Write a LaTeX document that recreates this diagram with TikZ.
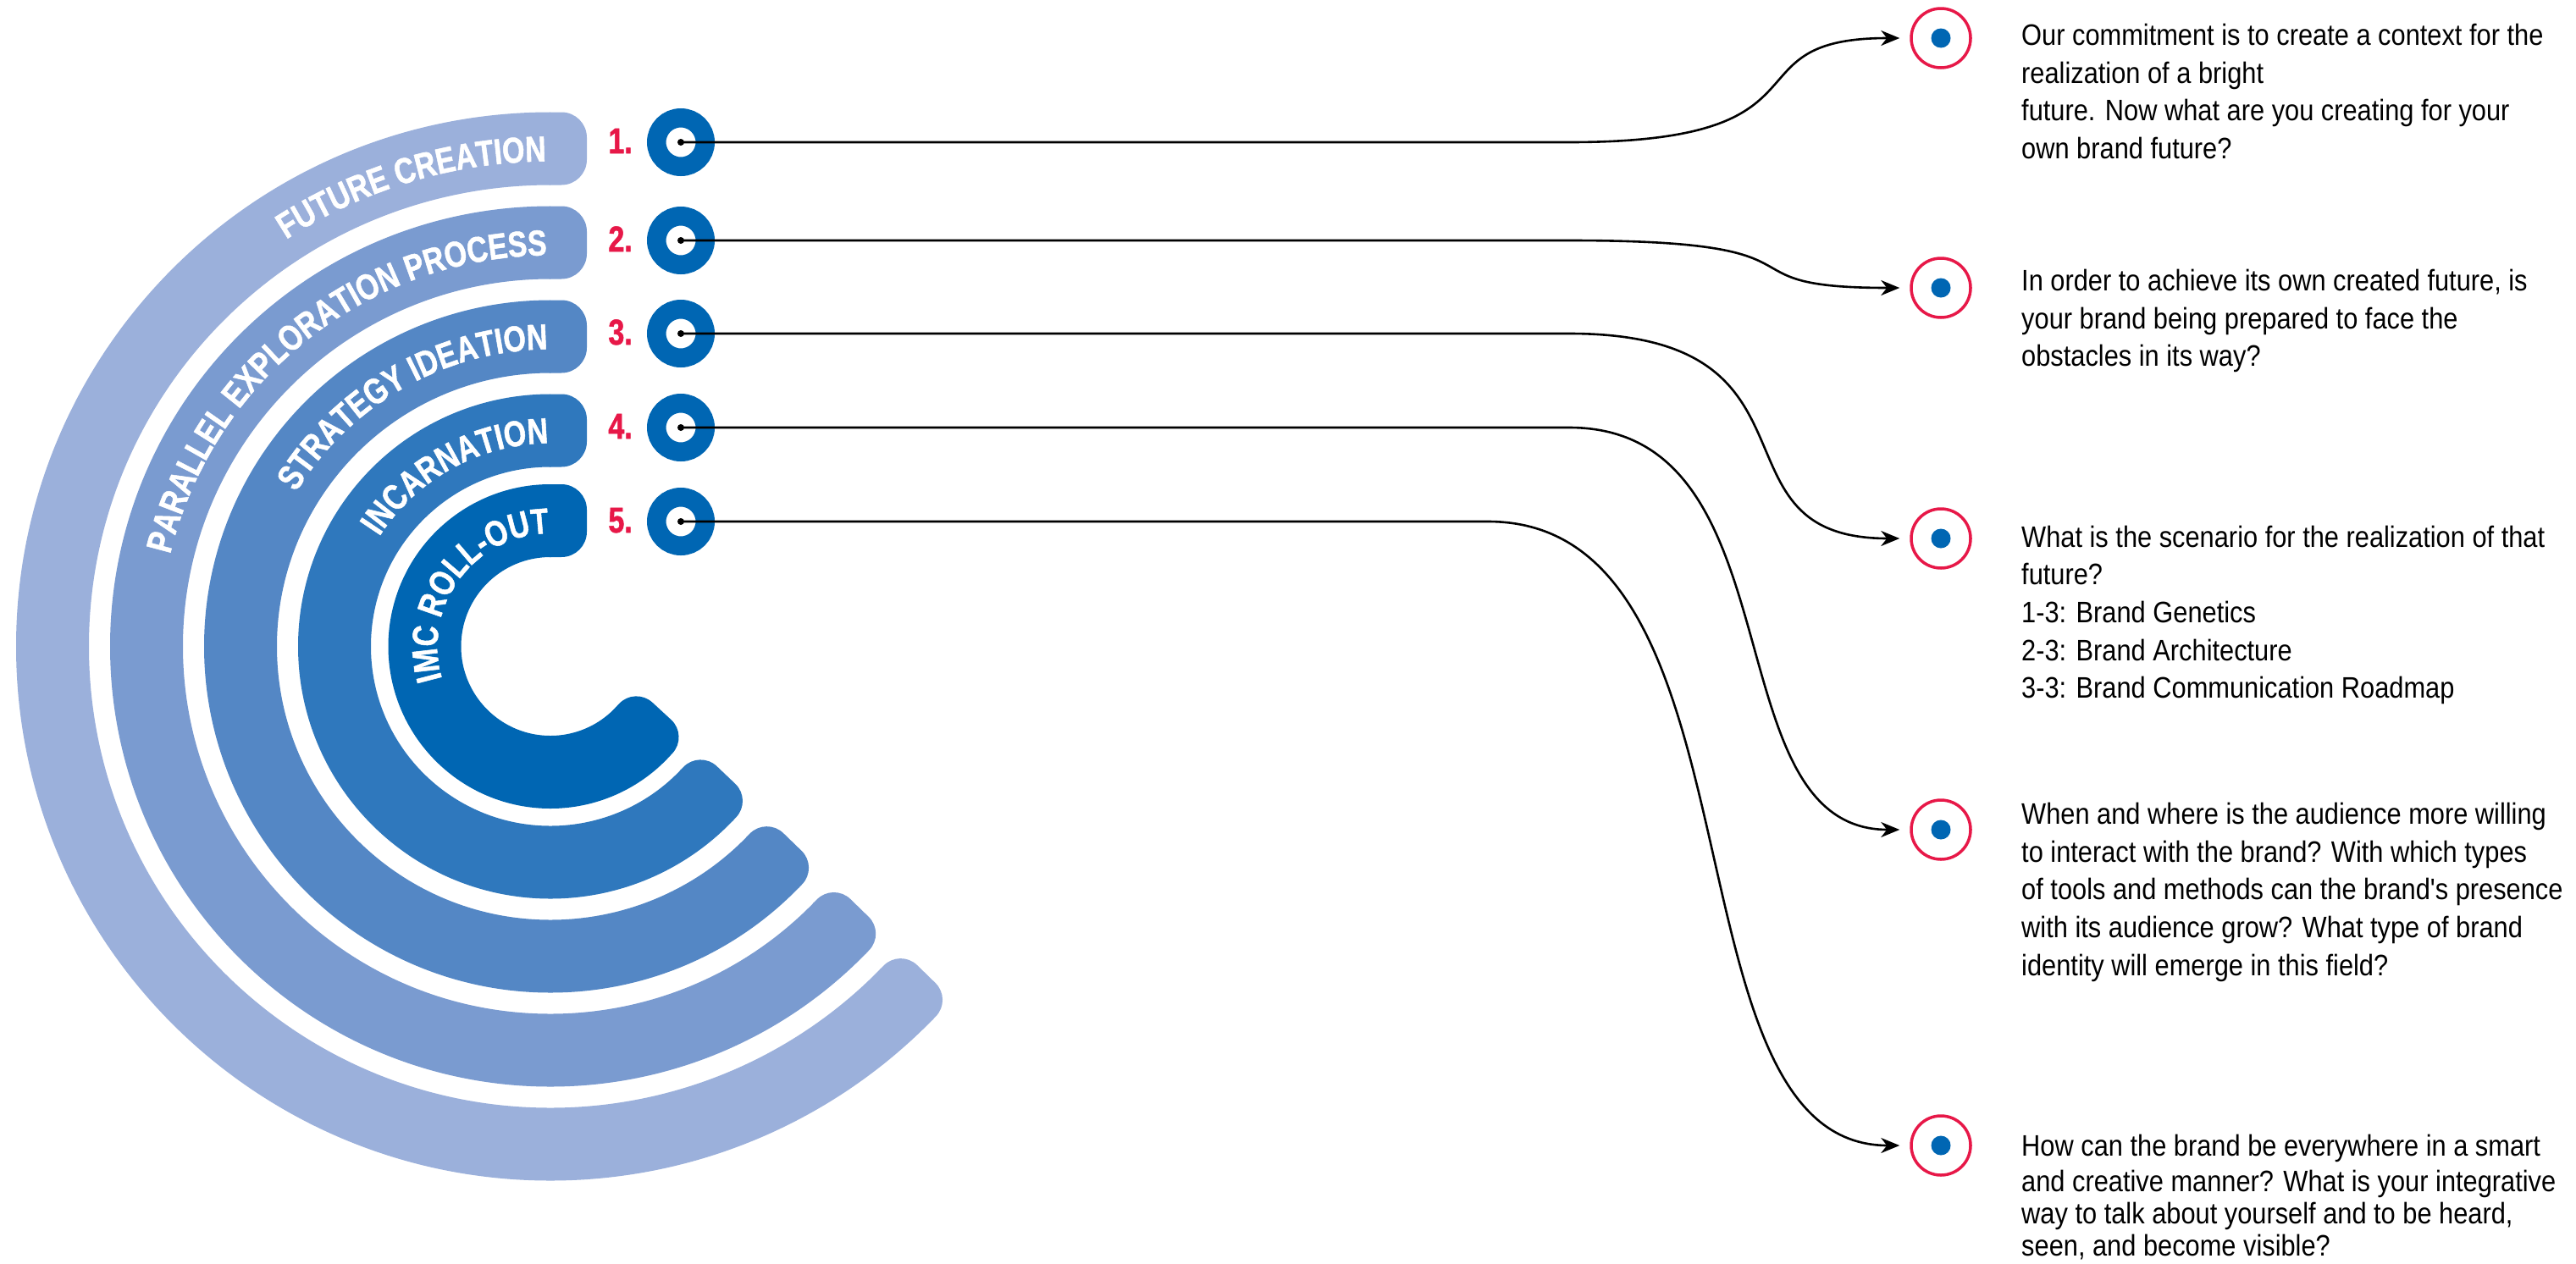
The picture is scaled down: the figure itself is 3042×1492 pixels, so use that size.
\documentclass[tikz,border=0pt]{standalone}
\usepackage{fontspec}
\setmainfont{Liberation Sans}
\newfontfamily\condfont[FakeStretch=0.8, BoldFeatures={FakeBold=1.2}]{Liberation Sans}
\newfontfamily\bodyfontfam[FakeStretch=0.88]{Liberation Sans}
\usetikzlibrary{arrows.meta,decorations.text}
\definecolor{bandA}{HTML}{9BB0DB}
\definecolor{bandB}{HTML}{7A9BD0}
\definecolor{bandC}{HTML}{5487C5}
\definecolor{bandD}{HTML}{2F78BD}
\definecolor{bandE}{HTML}{0066B3}
\definecolor{ringblue}{HTML}{0066B3}
\definecolor{redc}{HTML}{E71848}
\newcommand{\bandfont}{\condfont\bfseries\fontsize{42.5}{50}\selectfont}
% #1 colour, #2 mid radius, #3 end angle, #4 label
\newcommand{\drawband}[4]{%
  \draw[#1, line width=86pt] (650,{763.5-#2}) arc[start angle=270, end angle=#3, radius=#2];
  \fill[#1, shift={(650,{763.5-#2})}] (-1,-43) -- (13,-43) arc[start angle=-90,end angle=0,radius=30] -- (43,13) arc[start angle=0,end angle=90,radius=30] -- (-1,43) -- cycle;
  \fill[#1, shift={({650+#2*cos(#3)},{763.5+#2*sin(#3)})}, rotate={90-#3}] (-1,-43) -- (5,-43) arc[start angle=-90,end angle=0,radius=28] -- (33,15) arc[start angle=0,end angle=90,radius=28] -- (-1,43) -- cycle;
  \path[decorate, decoration={text along path, text={|\bandfont|#4}, text color=white, text align=right}]
    ({650+(#2-15)*cos(140)},{763.5+(#2-15)*sin(140)}) arc[start angle=140, end angle=269.5, radius={#2-15}];
}
\begin{document}
\begin{tikzpicture}[x=1pt,y=-1pt,
  ring/.style={circle, draw=ringblue, line width=22.5pt, fill=white, minimum size=57.5pt, inner sep=0pt},
  hub/.style={circle, fill=black, minimum size=8pt, inner sep=0pt},
  target/.style={circle, draw=redc, line width=3.5pt, fill=white, minimum size=70pt, inner sep=0pt},
  tdot/.style={circle, fill=ringblue, minimum size=23pt, inner sep=0pt},
  num/.style={anchor=base east, inner sep=0pt, text=redc, font=\bandfont},
  desc/.style={anchor=north west, inner sep=0pt, align=left, font=\bodyfontfam\fontsize{35}{44.7}\selectfont},
  conn/.style={draw=black, line width=2.6pt, -{Stealth[length=22pt,width=18pt,inset=7pt]}, shorten >=12pt}
]
\useasboundingbox (0,0) rectangle (3042,1492);
\fill[white] (0,0) rectangle (3042,1492);

% bands
\drawband{bandA}{588}{44.3}{FUTURE CREATION}
\drawband{bandB}{477}{44.2}{PARALLEL EXPLORATION PROCESS}
\drawband{bandC}{366}{44.1}{STRATEGY IDEATION}
\drawband{bandD}{255}{43.6}{INCARNATION}
\drawband{bandE}{148.5}{42.7}{IMC ROLL-OUT}

% numbers
\node[num] (n1) at (747,181) {1.};
\node[num] (n2) at (747,297) {2.};
\node[num] (n3) at (747,407) {3.};
\node[num] (n4) at (747,518) {4.};
\node[num] (n5) at (747,629) {5.};

% rings
\node[ring] (r1) at (804,168) {};
\node[ring] (r2) at (804,284) {};
\node[ring] (r3) at (804,394) {};
\node[ring] (r4) at (804,505) {};
\node[ring] (r5) at (804,616) {};

% targets
\node[target] (t1) at (2292,45) {};
\node[target] (t2) at (2292,340) {};
\node[target] (t3) at (2292,636) {};
\node[target] (t4) at (2292,980) {};
\node[target] (t5) at (2292,1353) {};
\node[tdot] (td1) at (t1.center) {};
\node[tdot] (td2) at (t2.center) {};
\node[tdot] (td3) at (t3.center) {};
\node[tdot] (td4) at (t4.center) {};
\node[tdot] (td5) at (t5.center) {};

% connectors
\draw[conn] (r1.center) -- (1853,168) .. controls (2179,168) and (2033,45) .. (t1.west);
\draw[conn] (r2.center) -- (1853,284) .. controls (2183,284) and (2016,340) .. (t2.west);
\draw[conn] (r3.center) -- (1853,394) .. controls (2171,394) and (2009,636) .. (t3.west);
\draw[conn] (r4.center) -- (1853,505) .. controls (2127,505) and (2019,980) .. (t4.west);
\draw[conn] (r5.center) -- (1757,616) .. controls (2093,616) and (1958,1353) .. (t5.west);

% hubs
\node[hub] (h1) at (r1.center) {};
\node[hub] (h2) at (r2.center) {};
\node[hub] (h3) at (r3.center) {};
\node[hub] (h4) at (r4.center) {};
\node[hub] (h5) at (r5.center) {};

% descriptions
\node[desc] (q1) at (2387,27.8) {Our commitment is to create a context for the\\realization of a bright\\future. Now what are you creating for your\\own brand future?};
\node[desc] (q2) at (2387,317.8) {In order to achieve its own created future, is\\your brand being prepared to face the\\obstacles in its way?};
\node[desc] (q3) at (2387,620.5) {What is the scenario for the realization of that\\future?\\1-3: Brand Genetics\\2-3: Brand Architecture\\3-3: Brand Communication Roadmap};
\node[desc] (q4) at (2387,948) {When and where is the audience more willing\\to interact with the brand? With which types\\of tools and methods can the brand's presence\\with its audience grow? What type of brand\\identity will emerge in this field?};
\node[desc, font=\bodyfontfam\fontsize{35}{38}\selectfont] (q5) at (2387,1340.2) {How can the brand be everywhere in a smart\\[4pt]and creative manner? What is your integrative\\way to talk about yourself and to be heard,\\seen, and become visible?};
\end{tikzpicture}
\end{document}
